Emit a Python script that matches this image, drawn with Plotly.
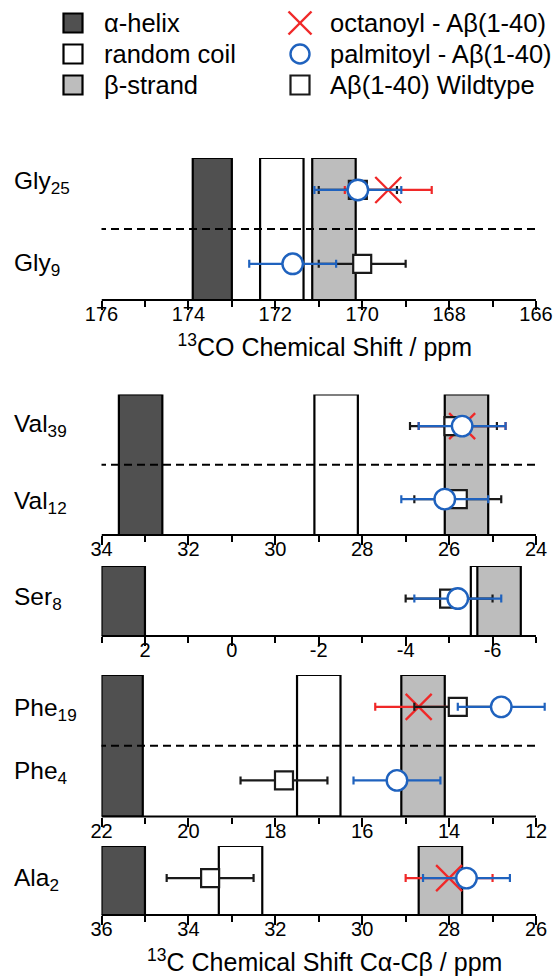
import plotly.graph_objects as go

FONT = "Liberation Sans, Arial, sans-serif"

# ---- data -------------------------------------------------------------
# x-range (left, right) of each panel; axes run from high to low ppm
PANEL_RANGES = [(176, 166), (34, 24), (3, -7), (22, 12), (36, 26)]
TICK_VALS = [[176, 174, 172, 170, 168, 166],
             [34, 32, 30, 28, 26, 24],
             [2, 0, -2, -4, -6],
             [22, 20, 18, 16, 14, 12],
             [36, 34, 32, 30, 28, 26]]
TICK_TEXT = [["176", "174", "172", "170", "168", "166"],
             ["34", "32", "30", "28", "26", "24"],
             ["2", "0", "-2", "-4", "-6"],
             ["22", "20", "18", "16", "14", "12"],
             ["36", "34", "32", "30", "28", "26"]]

# secondary-structure reference windows (ppm) per panel
HELIX_LO = [173.0, 32.6, 2.0, 21.05, 35.0]
HELIX_HI = [173.9, 33.6, 3.0, 22.0, 36.0]
COIL_LO = [171.35, 28.1, -6.5, 16.5, 32.3]
COIL_HI = [172.35, 29.1, -5.5, 17.5, 33.3]
STRAND_LO = [170.15, 25.1, -6.65, 14.1, 27.7]
STRAND_HI = [171.15, 26.1, -5.65, 15.1, 28.7]

# labelled residues
RESIDUE_NAMES = ["Gly", "Gly", "Val", "Val", "Ser", "Phe", "Phe", "Ala"]
RESIDUE_NUMBERS = ["25", "9", "39", "12", "8", "19", "4", "2"]
RESIDUE_PANEL = [0, 0, 1, 1, 2, 3, 3, 4]
RESIDUE_ROW = ["upper", "lower", "upper", "lower", "single", "upper", "lower", "single"]

# measured shifts and uncertainties (ppm); None = not measured
WT_SHIFT = [170.1, 170.0, 25.9, 25.8, -5.0, 13.8, 17.8, 33.5]
WT_ERR = [0.9, 1.0, 1.0, 1.0, 1.0, 1.0, 1.0, 1.0]
OCT_SHIFT = [169.4, None, 25.7, None, None, 14.7, None, 28.0]
OCT_ERR = [1.0, None, 1.0, None, None, 1.0, None, 1.0]
PALM_SHIFT = [170.1, 171.6, 25.7, 26.1, -5.2, 12.8, 15.2, 27.6]
PALM_ERR = [1.0, 1.0, 1.0, 1.0, 1.0, 1.0, 1.0, 1.0]

# legend entries
STRUCTURE_LABELS = ["α-helix", "random coil", "β-strand"]
SAMPLE_LABELS = ["octanoyl - Aβ(1-40)", "palmitoyl - Aβ(1-40)", "Aβ(1-40) Wildtype"]

# ---- styling / layout constants (pixels) -------------------------------
W, H = 558, 980
AX_L, AX_R = 101.5, 536       # extent of the drawn axis lines
OVERHANG = 12                 # room right of the axis for long error bars
PANEL_PX = [(158, 300), (394.5, 535), (566, 636), (675, 816.5), (846, 915)]
ROW_Y = {"upper": 0.775, "lower": 0.255, "single": 0.535}
LABEL_CAP_Y = [180, 262, 423, 500, 596, 707, 770, 877]
DASHED_PANELS = [0, 1, 3]
LEG_ROWS = [23, 54, 85]
LEG_COL1_SYM, LEG_COL1_TXT = 73, 102
LEG_COL2_SYM, LEG_COL2_TXT = 300, 328

HELIX_COLOR = "#505050"
COIL_COLOR = "#ffffff"
STRAND_COLOR = "#bdbdbd"
OCT_COLOR = "#f02828"
PALM_COLOR = "#1f62be"
WT_COLOR = "#1a1a1a"
STRUCTURE_COLORS = [HELIX_COLOR, COIL_COLOR, STRAND_COLOR]

AXIS_TITLES = {0: "<sup>13</sup>CO Chemical Shift / ppm",
               4: "<sup>13</sup>C Chemical Shift Cα-Cβ / ppm"}


def ax_suffix(i):
    return "" if i == 0 else str(i + 1)


def px_x(v):
    return v / W


def px_y(v):
    return 1 - v / H


fig = go.Figure()

# reference windows as horizontal bars spanning the panel height
for p in range(len(PANEL_RANGES)):
    xa, ya = "x" + ax_suffix(p), "y" + ax_suffix(p)
    for lo, hi, col in ((HELIX_LO[p], HELIX_HI[p], HELIX_COLOR),
                        (COIL_LO[p], COIL_HI[p], COIL_COLOR),
                        (STRAND_LO[p], STRAND_HI[p], STRAND_COLOR)):
        fig.add_trace(go.Bar(
            orientation="h", y=[0.5], x=[hi - lo], base=[lo], width=[1.0],
            marker=dict(color=col, line=dict(color="black", width=2.2)),
            showlegend=False, hoverinfo="skip", xaxis=xa, yaxis=ya))

# measured shifts with error bars
series = [
    (SAMPLE_LABELS[0], OCT_SHIFT, OCT_ERR, OCT_COLOR,
     dict(symbol="x-thin", size=26, line=dict(color=OCT_COLOR, width=2.3))),
    (SAMPLE_LABELS[2], WT_SHIFT, WT_ERR, WT_COLOR,
     dict(symbol="square", size=18, color="white", line=dict(color=WT_COLOR, width=2.2))),
    (SAMPLE_LABELS[1], PALM_SHIFT, PALM_ERR, PALM_COLOR,
     dict(symbol="circle", size=20.5, color="white", line=dict(color=PALM_COLOR, width=2.4))),
]
for name, shifts, errs, col, marker in series:
    for p in range(len(PANEL_RANGES)):
        xs, ys, es = [], [], []
        for r in range(len(RESIDUE_NAMES)):
            if RESIDUE_PANEL[r] == p and shifts[r] is not None:
                xs.append(shifts[r])
                ys.append(ROW_Y[RESIDUE_ROW[r]])
                es.append(errs[r])
        if not xs:
            continue
        fig.add_trace(go.Scatter(
            x=xs, y=ys, mode="markers", marker=marker, name=name,
            error_x=dict(type="data", array=es, color=col, thickness=2.2, width=4),
            showlegend=False, hoverinfo="skip",
            xaxis="x" + ax_suffix(p), yaxis="y" + ax_suffix(p)))

layout = dict(
    width=W, height=H,
    margin=dict(l=0, r=0, t=0, b=0, autoexpand=False),
    paper_bgcolor="white", plot_bgcolor="white",
    barmode="overlay", showlegend=False,
    font=dict(family=FONT, size=20, color="black"),
    shapes=[], annotations=[],
)

for p, (top, bot) in enumerate(PANEL_PX):
    s = ax_suffix(p)
    left, right = PANEL_RANGES[p]
    per_px = (left - right) / (AX_R - AX_L)
    x_end = right - OVERHANG * per_px
    xa = dict(
        domain=[px_x(AX_L), px_x(AX_R + OVERHANG)], anchor="y" + s,
        range=[left, x_end],
        showline=False, showgrid=False, zeroline=False,
        ticks="outside", ticklen=9, tickwidth=2, tickcolor="black",
        tickmode="array", tickvals=TICK_VALS[p], ticktext=TICK_TEXT[p],
        ticklabelstandoff=-13,
        minor=dict(ticks="outside", ticklen=6, tickwidth=2,
                   tickcolor="black", tick0=0, dtick=1, showgrid=False),
        tickfont=dict(family=FONT, size=20, color="black"),
        fixedrange=True,
    )
    if p in AXIS_TITLES:
        xa["title"] = dict(text=AXIS_TITLES[p], standoff=14,
                           font=dict(family=FONT, size=25, color="black"))
    ya = dict(domain=[px_y(bot), px_y(top)], anchor="x" + s,
              range=[0, 1], visible=False, fixedrange=True)
    layout["xaxis" + s] = xa
    layout["yaxis" + s] = ya

    # axis baseline, spanning exactly the labelled range
    layout["shapes"].append(dict(
        type="line", xref="x" + s, yref="y" + s + " domain",
        x0=left, x1=right, y0=0, y1=0, layer="above",
        line=dict(color="black", width=2.2)))

    if p in DASHED_PANELS:
        layout["shapes"].append(dict(
            type="line", xref="x" + s, yref="y" + s,
            x0=left + 3.5 * per_px, x1=right, y0=0.5, y1=0.5, layer="above",
            line=dict(color="black", width=2.2, dash="8px,5px")))

# residue labels
for r in range(len(RESIDUE_NAMES)):
    layout["annotations"].append(dict(
        text=f"{RESIDUE_NAMES[r]}<sub>{RESIDUE_NUMBERS[r]}</sub>",
        xref="paper", x=px_x(12), xanchor="left",
        yref="paper", y=px_y(LABEL_CAP_Y[r] + 2), yanchor="middle",
        showarrow=False, font=dict(family=FONT, size=24.5, color="black")))

# key: structure windows (left column) and samples (right column)
half = 9.5
for i, (lab, col) in enumerate(zip(STRUCTURE_LABELS, STRUCTURE_COLORS)):
    cy = LEG_ROWS[i]
    layout["shapes"].append(dict(
        type="rect", xref="paper", yref="paper",
        x0=px_x(LEG_COL1_SYM - half), x1=px_x(LEG_COL1_SYM + half),
        y0=px_y(cy + half), y1=px_y(cy - half),
        fillcolor=col, line=dict(color="black", width=2.2)))
    layout["annotations"].append(dict(
        text=lab, xref="paper", x=px_x(LEG_COL1_TXT), xanchor="left",
        yref="paper", y=px_y(cy), yanchor="middle", showarrow=False,
        font=dict(family=FONT, size=25.5, color="black")))

cx = LEG_COL2_SYM
xr = 11.5
cy = LEG_ROWS[0]
for sgn in (1, -1):
    layout["shapes"].append(dict(
        type="line", xref="paper", yref="paper",
        x0=px_x(cx - xr), x1=px_x(cx + xr),
        y0=px_y(cy - sgn * xr), y1=px_y(cy + sgn * xr),
        line=dict(color=OCT_COLOR, width=2.4)))
cy = LEG_ROWS[1]
cr = 9.5
layout["shapes"].append(dict(
    type="circle", xref="paper", yref="paper",
    x0=px_x(cx - cr), x1=px_x(cx + cr), y0=px_y(cy + cr), y1=px_y(cy - cr),
    fillcolor="white", line=dict(color=PALM_COLOR, width=2.4)))
cy = LEG_ROWS[2]
layout["shapes"].append(dict(
    type="rect", xref="paper", yref="paper",
    x0=px_x(cx - half), x1=px_x(cx + half), y0=px_y(cy + half), y1=px_y(cy - half),
    fillcolor="white", line=dict(color=WT_COLOR, width=2.2)))
for i, lab in enumerate(SAMPLE_LABELS):
    layout["annotations"].append(dict(
        text=lab, xref="paper", x=px_x(LEG_COL2_TXT), xanchor="left",
        yref="paper", y=px_y(LEG_ROWS[i]), yanchor="middle", showarrow=False,
        font=dict(family=FONT, size=25.5, color="black")))

fig.update_layout(**layout)
fig.write_html("out.html")
